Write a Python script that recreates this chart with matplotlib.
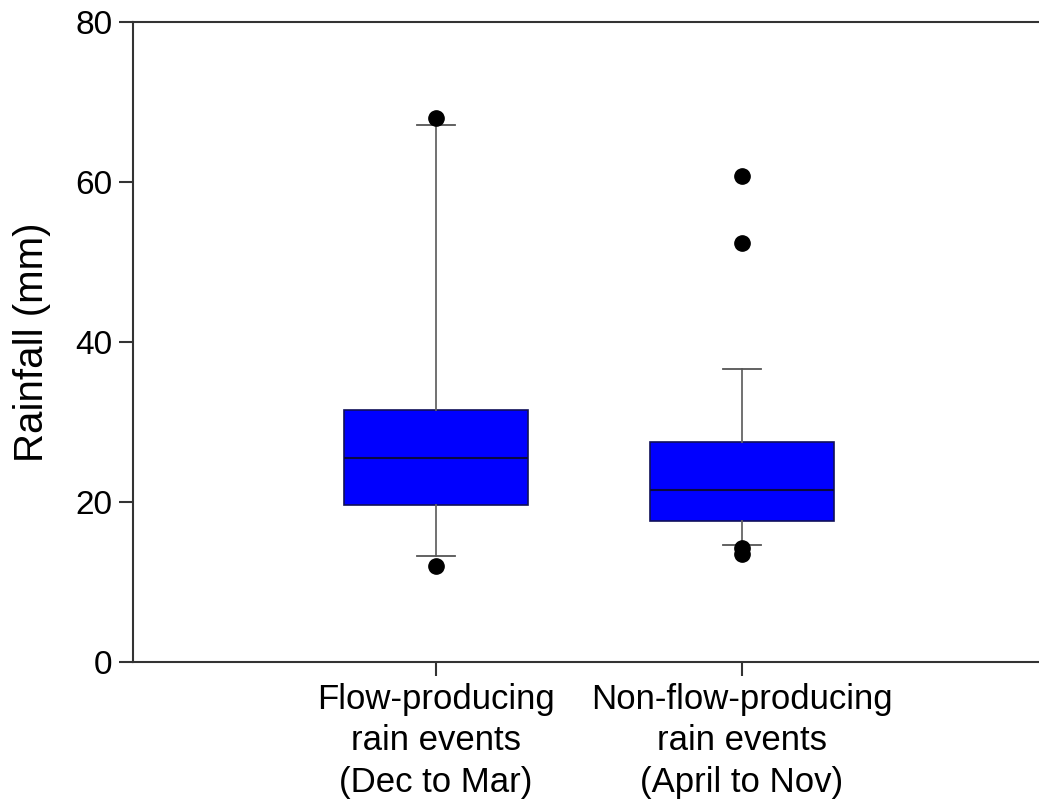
import matplotlib
matplotlib.use("Agg")
import matplotlib.pyplot as plt

categories = ["Flow-producing\nrain events\n(Dec to Mar)",
              "Non-flow-producing\nrain events\n(April to Nov)"]
q1 = [19.6, 17.6]
median = [25.5, 21.5]
q3 = [31.5, 27.5]
whisker_low = [13.25, 14.6]
whisker_high = [67.1, 36.6]
outliers = [[68.0, 12.0], [60.75, 52.4, 14.25, 13.5]]

plt.rcParams['font.family'] = ['Liberation Sans', 'DejaVu Sans']

fig = plt.figure(figsize=(10.39, 7.99), dpi=100)
ax = fig.add_axes([133/1039, 137/799, 916/1039, 640/799])

stats = []
for i in range(len(categories)):
    stats.append(dict(med=median[i], q1=q1[i], q3=q3[i],
                      whislo=whisker_low[i], whishi=whisker_high[i],
                      fliers=outliers[i], label=categories[i]))

ax.bxp(stats, positions=[1, 2], widths=0.6, patch_artist=True,
       capwidths=0.125,
       boxprops=dict(facecolor='#0000FF', edgecolor='#10105a', linewidth=1.2),
       medianprops=dict(color='#0a0a40', linewidth=1.5),
       whiskerprops=dict(color='#666666', linewidth=1.3),
       capprops=dict(color='#555555', linewidth=1.3),
       flierprops=dict(marker='o', markerfacecolor='black', markeredgecolor='black',
                       markersize=11, linestyle='none'))

ax.set_xlim(0.0098, 3.003)
ax.set_ylim(0, 80)
ax.set_yticks([0, 20, 40, 60, 80])
ax.spines['right'].set_visible(False)
for s in ['left', 'top', 'bottom']:
    ax.spines[s].set_linewidth(1.5)
    ax.spines[s].set_color('#333333')
ax.tick_params(axis='both', direction='out', length=10, width=1.5, color='#333333',
               labelsize=24, pad=5)
ax.tick_params(axis='x', labelsize=25, pad=5)
ax.set_ylabel("Rainfall (mm)", fontsize=29, labelpad=17)
for lab in ax.get_xticklabels():
    lab.set_linespacing(1.33)

fig.savefig("out.png", dpi=100)
